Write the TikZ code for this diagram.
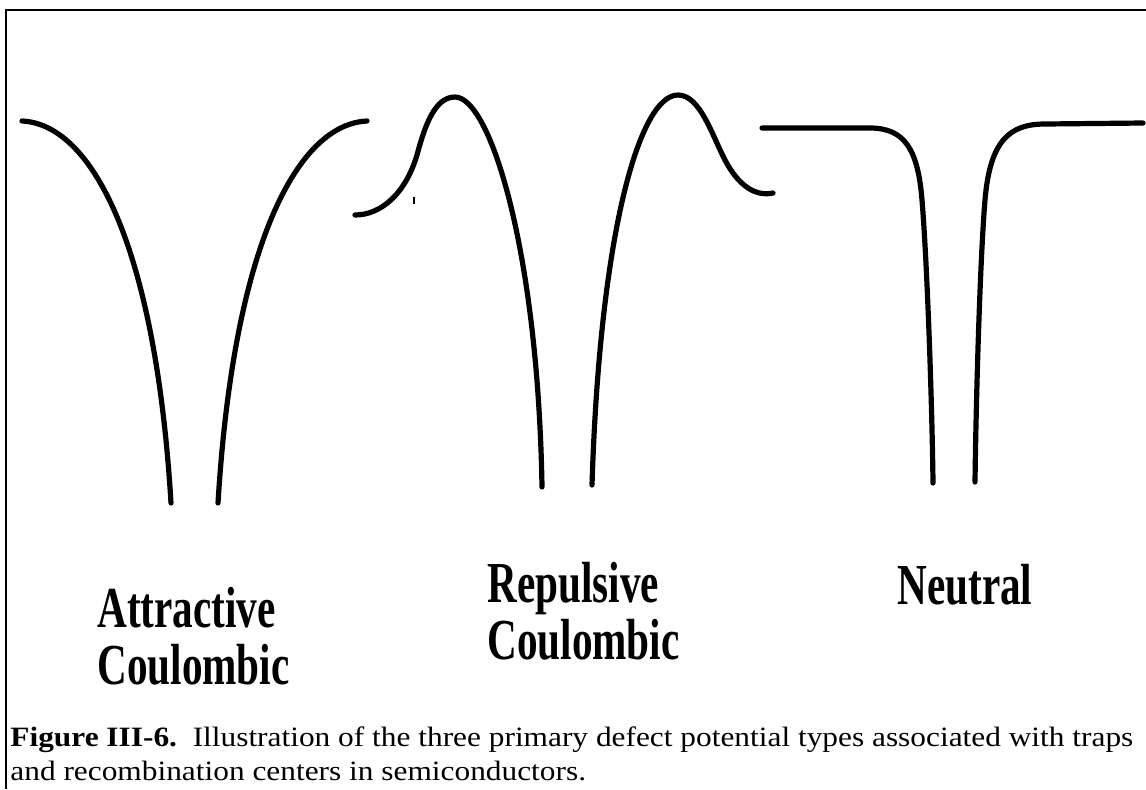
\documentclass[tikz,border=0pt]{standalone}
\usepackage{fontspec}
\setmainfont{Liberation Serif}
\newfontfamily\labfont[FakeStretch=0.71]{Liberation Serif Bold}
\newfontfamily\capfont[FakeStretch=1.12]{Liberation Serif}
\begin{document}
\begin{tikzpicture}[x=0.5pt,y=-0.5pt,
  curve/.style={line width=2.6pt, line cap=round, line join=round},
  framestyle/.style={line width=1pt},
  lab/.style={font=\labfont\fontsize{29}{35}\selectfont, anchor=base west, inner sep=0pt},
  captext/.style={font=\capfont\fontsize{14}{17}\selectfont, anchor=base west, inner sep=0pt}]
\useasboundingbox (0,0) rectangle (1146,789);
% frame
\coordinate (ftr) at (1146,10);
\coordinate (ftl) at (6,10);
\coordinate (fbl) at (6,789);
\draw[framestyle] (ftr) -- (ftl) -- (fbl);
% attractive coulombic
\draw[curve] (22,121) .. controls (90,124) and (155,240) .. (171,503);
\draw[curve] (367,121) .. controls (299,124) and (234,240) .. (218,503);
% repulsive coulombic
\draw[curve] (355,215) .. controls (380,215) and (405,195) .. (417,155)
  .. controls (425,125) and (435,97) .. (455,97)
  .. controls (490,97) and (538,250) .. (542,487);
\draw[curve] (592,485) .. controls (600,230) and (640,95) .. (678,95)
  .. controls (700,95) and (712,135) .. (725,160)
  .. controls (738,185) and (755,197) .. (773,193);
\draw[line width=0.8pt] (414,197) -- (414,204);
% neutral
\draw[curve] (762,128) -- (870,128) .. controls (905,128) and (918,150) .. (922,200)
  .. controls (927,260) and (932,400) .. (933,483);
\draw[curve] (975,482) .. controls (976,400) and (980,260) .. (985,200)
  .. controls (990,140) and (1010,124) .. (1045,124) -- (1143,123);
% labels
\node[lab] (att1) at (97,627) {Attractive};
\node[lab] (att2) at (97,684) {Coulombic};
\node[lab] (rep1) at (487,602) {Repulsive};
\node[lab] (rep2) at (487,659) {Coulombic};
\node[lab] (neu) at (897,604) {Neutral};
% caption
\node[captext] (cap1) at (10,746) {\textbf{Figure III-6.}\ \ Illustration of the three primary defect potential types associated with traps};
\node[captext] (cap2) at (10,780) {and recombination centers in semiconductors.};
\end{tikzpicture}
\end{document}
